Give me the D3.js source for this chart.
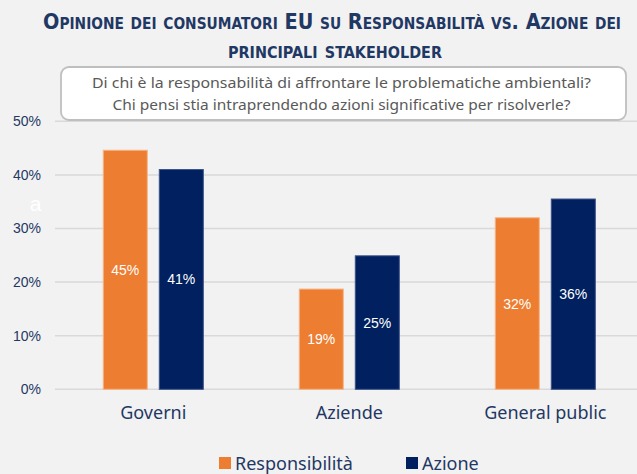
<!DOCTYPE html>
<html><head><meta charset="utf-8">
<script src="https://cdn.jsdelivr.net/npm/d3@7"></script>
<style>
html,body{margin:0;padding:0;background:#F2F2F2;}
svg{display:block;}
</style></head>
<body>
<script>
const categories = ["Governi", "Aziende", "General public"];
const seriesNames = ["Responsibilità", "Azione"];
const responsabilita = [0.446, 0.187, 0.320];
const azione = [0.410, 0.249, 0.355];
const yTicks = [0, 0.1, 0.2, 0.3, 0.4, 0.5];
const titleLine1 = "Opinione dei consumatori EU su Responsabilità vs. Azione dei";
const titleLine2 = "principali stakeholder";
const subtitle = ["Di chi è la responsabilità di affrontare le problematiche ambientali?",
                  "Chi pensi stia intraprendendo azioni significative per risolverle?"];
const colors = ["#ED7D31", "#002060"];
const strokes = ["#F5B486", "#3B5287"];
const navyText = "#1F3864";

const W = 637, H = 474;
const svg = d3.select("body").append("svg").attr("width", W).attr("height", H);
svg.append("rect").attr("width", W).attr("height", H).attr("fill", "#F2F2F2");

const x0 = d3.scaleBand().domain(categories).range([55.3, 643.3]).padding(0);
const x1 = d3.scaleBand().domain(seriesNames).range([0, x0.bandwidth()])
  .paddingInner(12/56).paddingOuter(0.857);
const y = d3.scaleLinear().domain([0, 0.5]).range([389.3, 121.3]);

// gridlines
svg.append("g").selectAll("line").data(yTicks).join("line")
  .attr("x1", 55).attr("x2", W)
  .attr("y1", d => y(d)).attr("y2", d => y(d))
  .attr("stroke", "#D9D9D9").attr("stroke-width", 1.5);

// y axis labels
const yAxis = d3.axisLeft(y).tickValues(yTicks).tickFormat(d3.format(".0%")).tickSize(0).tickPadding(0);
const ya = svg.append("g").attr("transform", "translate(41,0)").call(yAxis);
ya.select(".domain").remove();
ya.selectAll("text").attr("font-family", "Liberation Sans, Arial, sans-serif")
  .attr("font-size", 14).attr("fill", navyText);

// subtitle box
svg.append("rect").attr("x", 61).attr("y", 67).attr("width", 565).attr("height", 53)
  .attr("rx", 8).attr("fill", "#FFFFFF").attr("stroke", "#BFBFBF").attr("stroke-width", 1.8);
svg.append("g").selectAll("text").data(subtitle).join("text")
  .attr("x", 341.5).attr("y", (d, i) => 88 + i * 22)
  .attr("text-anchor", "middle")
  .attr("font-family", "Noto Sans, Open Sans, sans-serif").attr("font-size", 15)
  .attr("fill", "#595959")
  .attr("textLength", (d, i) => i === 0 ? 499 : 458).attr("lengthAdjust", "spacingAndGlyphs")
  .text(d => d);

// title
const tfont = "'Liberation Sans Narrow', 'DejaVu Sans Condensed', 'Arial Narrow', sans-serif";
svg.append("text").attr("x", 332).attr("y", 28.5).attr("text-anchor", "middle")
  .attr("font-family", tfont).attr("font-weight", "bold").attr("font-size", 21)
  .style("font-variant", "small-caps").attr("fill", navyText)
  .attr("textLength", 578).attr("lengthAdjust", "spacingAndGlyphs")
  .text(titleLine1);
svg.append("text").attr("x", 335).attr("y", 58).attr("text-anchor", "middle")
  .attr("font-family", tfont).attr("font-weight", "bold").attr("font-size", 22)
  .style("font-variant", "small-caps").attr("fill", navyText)
  .attr("textLength", 214).attr("lengthAdjust", "spacingAndGlyphs")
  .text(titleLine2);

// stray label
svg.append("text").attr("x", 35.5).attr("y", 211).attr("text-anchor", "middle")
  .attr("font-family", "Liberation Sans, Arial, sans-serif").attr("font-size", 21)
  .attr("fill", "#FFFFFF").text("a");

// bars
const rows = categories.map((c, i) => ({cat: c, vals: [responsabilita[i], azione[i]]}));
const groups = svg.append("g").selectAll("g").data(rows).join("g")
  .attr("transform", d => `translate(${x0(d.cat)},0)`);
const bars = groups.selectAll("g").data(d => d.vals.map((v, j) => ({v, j, s: seriesNames[j]}))).join("g");
bars.append("rect")
  .attr("x", d => x1(d.s)).attr("width", x1.bandwidth())
  .attr("y", d => y(d.v)).attr("height", d => y(0) - y(d.v))
  .attr("fill", d => colors[d.j]).attr("stroke", d => strokes[d.j]).attr("stroke-width", 1);
bars.append("text")
  .attr("x", d => x1(d.s) + x1.bandwidth() / 2)
  .attr("y", d => (y(d.v) + y(0)) / 2 + 5)
  .attr("text-anchor", "middle")
  .attr("font-family", "Liberation Sans, Arial, sans-serif").attr("font-size", 14)
  .attr("fill", "#FFFFFF")
  .text(d => d3.format(".0%")(d.v));

// x axis labels
const xAxis = d3.axisBottom(x0).tickSize(0).tickPadding(0);
const xa = svg.append("g").attr("transform", "translate(0,406)").call(xAxis);
xa.select(".domain").remove();
xa.selectAll("text").attr("font-family", "Noto Sans, Open Sans, sans-serif")
  .attr("font-size", 18).attr("fill", navyText).attr("dy", "0.71em");

// legend
const legendX = [219, 406];
const lg = svg.append("g").selectAll("g").data(seriesNames).join("g")
  .attr("transform", (d, i) => `translate(${legendX[i]},457)`);
lg.append("rect").attr("width", 12).attr("height", 12).attr("fill", (d, i) => colors[i]);
lg.append("text").attr("x", 16).attr("y", 12.5)
  .attr("font-family", "Noto Sans, Open Sans, sans-serif").attr("font-size", 18)
  .attr("fill", navyText).text(d => d);
</script>
</body></html>
